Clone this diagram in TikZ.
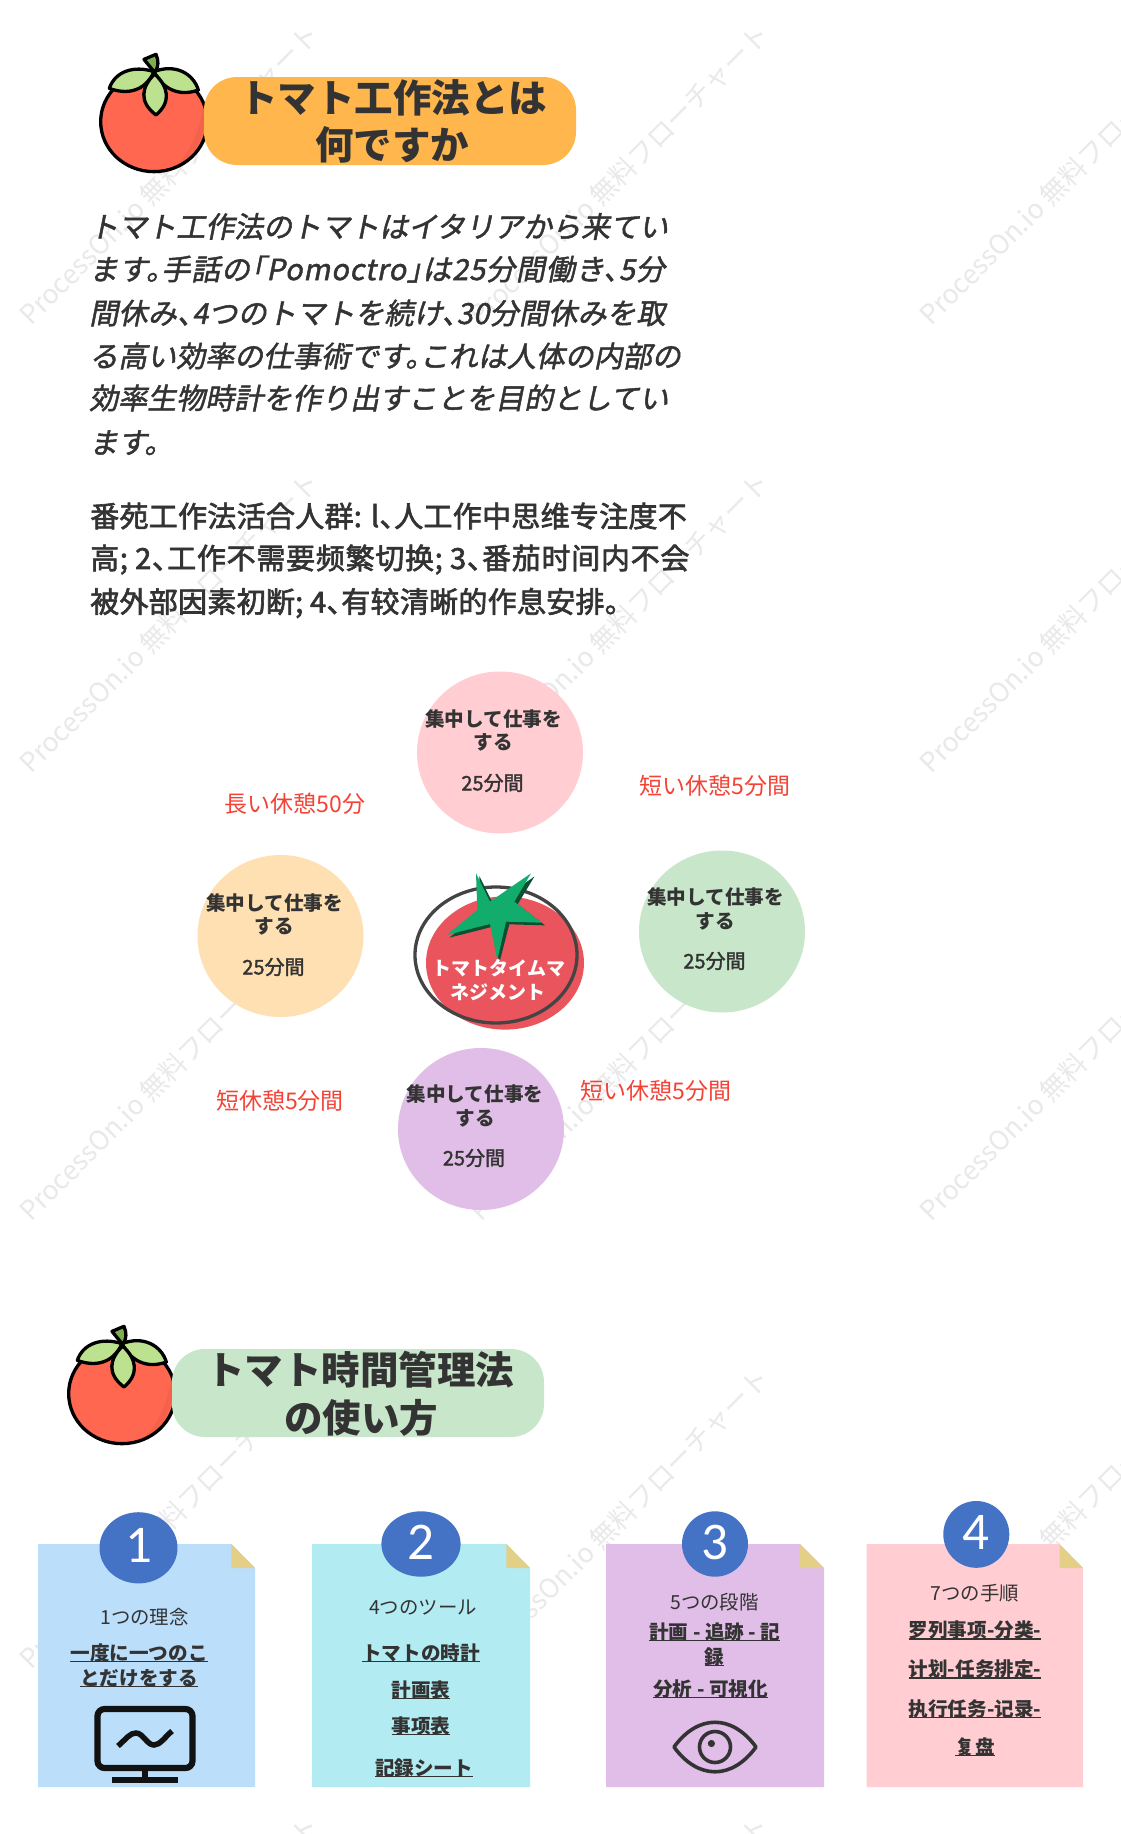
\documentclass[tikz,border=0pt]{standalone}
\usepackage{fontspec}
\setmainfont{Noto Sans CJK JP}
\newfontfamily\slantjp[FakeSlant=0.2,FakeBold=1.6,RawFeature=+halt]{Noto Sans CJK JP}
\newfontfamily\medjp[FakeBold=2.2,RawFeature=+halt]{Noto Sans CJK JP}
\newfontfamily\ctjp[FakeBold=1.6,RawFeature=+halt]{Noto Sans CJK JP}
\newfontfamily\numfont{Carlito}
\definecolor{ink}{HTML}{333333}
\definecolor{wm}{HTML}{E9E9E9}
\definecolor{redlbl}{HTML}{F44336}
\definecolor{blue1}{HTML}{4472C4}
\definecolor{fold}{HTML}{E3CF85}
\definecolor{pink1}{HTML}{FFCDD2}
\definecolor{orange1}{HTML}{FFE0B2}
\definecolor{green1}{HTML}{C8E6C9}
\definecolor{purple1}{HTML}{E1BEE7}
\definecolor{sky1}{HTML}{BBDEFB}
\definecolor{cyan1}{HTML}{B2EBF2}
\definecolor{amber1}{HTML}{FFB74D}
\definecolor{tomred}{HTML}{FF6750}
\definecolor{tomdark}{HTML}{F4624C}
\definecolor{stem}{HTML}{7FAE4F}
\definecolor{leaf}{HTML}{BCE28F}
\definecolor{blob}{HTML}{EA545C}
\definecolor{ring}{HTML}{444444}
\definecolor{stardark}{HTML}{0B4F33}
\definecolor{star}{HTML}{12AD6C}
\newcommand\fs[1]{\fontsize{#1}{#1}\selectfont\rule[-0.08em]{0pt}{0.84em}}
\newcommand\ulin[1]{\setbox0\hbox{#1}\rlap{\rule[-0.1em]{\wd0}{0.075em}}\box0}
\newcommand\lsp[2]{{\addfontfeature{LetterSpace=#1}#2}}
\tikzset{
  txt/.style={inner sep=0pt,text=ink,anchor=center},
  title/.style={txt,font=\fs{38.5}\bfseries},
  body/.style={txt,anchor=west,font=\fs{29}\slantjp},
  bodyb/.style={txt,anchor=west,font=\fs{29}\medjp},
  cb/.style={txt,font=\fs{19.6}\bfseries},
  ct/.style={txt,font=\fs{20}\ctjp},
  redtxt/.style={txt,text=redlbl,font=\fs{23}},
  cl/.style={txt,font=\fs{19.4}},
  num/.style={txt,text=white,font=\fs{53}\numfont},
  wmk/.style={inner sep=0pt,text=wm,font=\fs{26.8},rotate=45,anchor=west},
  tl/.style={draw=black,line width=3.3pt,line join=round}
}
\newcommand\tomatoicon[2]{%
\begin{scope}[shift={(#1,#2)},x=0.3333pt,y=-0.3333pt]
  \fill[tomred] (222,275) ellipse [x radius=160,y radius=150];
  \fill[tomdark] (370,225) .. controls (360,300) and (330,370) .. (290,405) .. controls (340,385) and (385,320) .. (370,225) -- cycle;
  \draw[tl] (222,275) ellipse [x radius=160,y radius=150];
  \filldraw[tl,fill=stem] (222,125) -- (192,88) -- (228,73) .. controls (236,90) and (236,110) .. (226,125) -- cycle;
  \filldraw[tl,fill=leaf] (222,125) .. controls (160,105) and (105,125) .. (88,175) .. controls (140,195) and (195,185) .. (222,125) -- cycle;
  \filldraw[tl,fill=leaf] (222,125) .. controls (285,100) and (340,130) .. (355,180) .. controls (300,200) and (250,180) .. (222,125) -- cycle;
  \filldraw[tl,fill=leaf] (224,132) .. controls (185,170) and (175,215) .. (228,255) .. controls (275,215) and (265,170) .. (224,132) -- cycle;
\end{scope}}
\begin{document}
\begin{tikzpicture}[x=1pt,y=-1pt]
\useasboundingbox (0,0) rectangle (1120,1834);
\fill[white] (0,0) rectangle (1120,1834);
% watermark
\begin{scope}
\clip (0,0) rectangle (1120,1834);
\foreach \cx/\ci in {24/a,474/b,924/c}{
  \foreach \ry/\ri in {320/1,768/2,1216/3,1664/4,2112/5}{
    \node[wmk] (wm\ci\ri) at (\cx,\ry) {ProcessOn.io 無料フローチャート};
  }
}
\end{scope}
% header 1
\tomatoicon{80}{30}
\fill[amber1,rounded corners=33pt] (204,77) rectangle (576,165);
\node[title] (t1a) at (393,98) {トマト工作法とは};
\node[title] (t1b) at (392,145) {何ですか};
% paragraph 1
\node[body] (p1) at (89,226.5) {トマト工作法のトマトはイタリアから来てい};
\node[body] (p2) at (89,269) {\lsp{3}{ます。手話の「Pomoctro」は25分間働き、5分}};
\node[body] (p3) at (89,313) {\lsp{1.2}{間休み、4つのトマトを続け、30分間休みを取}};
\node[body] (p4) at (89,356) {る高い効率の仕事術です。これは人体の内部の};
\node[body] (p5) at (89,398) {効率生物時計を作り出すことを目的としてい};
\node[body] (p6) at (89,443) {ます。};
% paragraph 2
\node[bodyb] (q1) at (90,516) {\lsp{1}{番苑工作法活合人群: l、人工作中思维专注度不}};
\node[bodyb] (q2) at (90,559.5) {\lsp{2.5}{高; 2、工作不需要频繁切换; 3、番茄时间内不会}};
\node[bodyb] (q3) at (90,603) {\lsp{1}{被外部因素初断; 4、有较清晰的作息安排。}};
% circles
\fill[pink1] (500,752.5) ellipse [x radius=83,y radius=81];
\fill[orange1] (280.5,936) ellipse [x radius=83,y radius=81];
\fill[green1] (722,931.5) ellipse [x radius=83,y radius=81];
\fill[purple1] (481,1129) ellipse [x radius=83,y radius=81];
\node[cb] (ca1) at (493.5,719) {集中して仕事を};
\node[cb] (ca2) at (493.5,742) {する};
\node[ct] (ca3) at (492.5,783) {25分間};
\node[cb] (cb1) at (274.5,903) {集中して仕事を};
\node[cb] (cb2) at (274.5,926) {する};
\node[ct] (cb3) at (273.5,967) {25分間};
\node[cb] (cc1) at (715.5,897) {集中して仕事を};
\node[cb] (cc2) at (715.5,921) {する};
\node[ct] (cc3) at (714.5,961) {25分間};
\node[cb] (cd1) at (475,1094.5) {集中して仕事を};
\node[cb] (cd2) at (475,1118.5) {する};
\node[ct] (cd3) at (474,1158) {25分間};
\node[redtxt] (r1) at (295,803.4) {長い休憩50分};
\node[redtxt] (r2) at (715,785.4) {短い休憩5分間};
\node[redtxt] (r3) at (280,1101) {短休憩5分間};
\node[redtxt] (r4) at (656,1091) {短い休憩5分間};
% centre tomato
\fill[blob] (505,963) ellipse [x radius=79,y radius=66.6];
\draw[ring,line width=3.3pt] (496,955) ellipse [x radius=81,y radius=68];
\begin{scope}[shift={(400,850)},x=0.3333pt,y=-0.3333pt]
  \fill[stardark] (238,78) -- (280,163) -- (403,80) -- (353,163) -- (435,226) -- (328,223) -- (298,338) -- (278,230) -- (148,263) -- (242,188) -- cycle;
  \fill[star] (228,70) -- (270,155) -- (393,70) -- (343,155) -- (425,218) -- (318,215) -- (292,330) -- (270,222) -- (140,255) -- (232,180) -- cycle;
\end{scope}
\node[txt,text=white,font=\fs{19}\bfseries] (cm1) at (499,968) {トマトタイムマ};
\node[txt,text=white,font=\fs{19}\bfseries] (cm2) at (498,992) {ネジメント};
% header 2
\tomatoicon{48}{1302}
\fill[green1,rounded corners=33pt] (172,1349) rectangle (544,1437);
\node[title] (t2a) at (360,1370) {トマト時間管理法};
\node[title] (t2b) at (361,1417.5) {の使い方};
% cards
\fill[sky1] (38,1544) -- (231.4,1544) -- (255,1568) -- (255,1787) -- (38,1787) -- cycle;
\fill[fold] (231.4,1544) -- (255,1568) -- (231.4,1568) -- cycle;
\fill[cyan1] (312,1544) -- (506.4,1544) -- (530,1568) -- (530,1787) -- (312,1787) -- cycle;
\fill[fold] (506.4,1544) -- (530,1568) -- (506.4,1568) -- cycle;
\fill[purple1] (606,1544) -- (800,1544) -- (824,1568) -- (824,1787) -- (606,1787) -- cycle;
\fill[fold] (800,1544) -- (824,1568) -- (800,1568) -- cycle;
\fill[pink1] (866.5,1544) -- (1059.5,1544) -- (1083,1568) -- (1083,1787) -- (866.5,1787) -- cycle;
\fill[fold] (1059.5,1544) -- (1083,1568) -- (1059.5,1568) -- cycle;
% number badges
\fill[blue1] (138.5,1547.8) ellipse [x radius=39,y radius=35.6];
\fill[blue1] (421,1544) ellipse [x radius=39.6,y radius=32.7];
\fill[blue1] (715,1544) ellipse [x radius=33,y radius=32.7];
\fill[blue1] (976.3,1534.4) ellipse [x radius=33,y radius=33.4];
\node[num] (n1) at (139,1544) {1};
\node[num] (n2) at (421,1541) {2};
\node[num] (n3) at (715,1541) {3};
\node[num] (n4) at (976,1531) {4};
% card 1
\node[cl] (a0) at (144.6,1616.8) {1つの理念};
\node[cb] (a1) at (139,1653) {\ulin{一度に一つのこ}};
\node[cb] (a2) at (139,1678) {\ulin{とだけをする}};
\draw[black!93,line width=6.2pt,rounded corners=7pt] (97.5,1709) rectangle (192.5,1768);
\draw[black!93,line width=6.2pt] (145,1771) -- (145,1780);
\draw[black!93,line width=6.2pt] (112,1780) -- (178,1780);
\draw[black!93,line width=5.5pt] (118,1746) .. controls (127,1738) and (130,1733) .. (136,1733) .. controls (143,1733) and (147,1745) .. (154,1745) .. controls (160,1745) and (165,1737) .. (172,1731);
% card 2
\node[cl] (b0) at (423,1608) {4つのツール};
\node[cb] (b1) at (421,1653) {\ulin{トマトの時計}};
\node[cb] (b2) at (421,1690) {\ulin{計画表}};
\node[cb] (b3) at (421,1725.8) {\ulin{事项表}};
\node[cb] (b4) at (424,1768) {\ulin{記録シート}};
% card 3
\node[cl] (c0) at (714.6,1602) {5つの段階};
\node[cb] (c1) at (714.8,1632) {\ulin{計画 - 追跡 - 記}};
\node[cb] (c2) at (714.6,1656.6) {\ulin{録}};
\node[cb] (c3) at (710.6,1689) {\ulin{分析 - 可視化}};
\draw[ink,line width=3.6pt,line join=round] (674,1747) .. controls (698,1714) and (732,1714) .. (756,1747) .. controls (732,1780) and (698,1780) .. cycle;
\draw[ink,line width=3.6pt] (715,1747) circle [radius=15.5];
\fill[ink] (711.4,1743.5) circle [radius=3.6];
% card 4
\node[cl] (d0) at (975,1593) {7つの手順};
\node[cb] (d1) at (975,1630.4) {\ulin{罗列事项-分类-}};
\node[cb] (d2) at (975,1669.5) {\ulin{计划-任务排定-}};
\node[cb] (d3) at (975,1708.7) {\ulin{执行任务-记录-}};
\node[cb] (d4) at (975,1747) {\ulin{复盘}};
\end{tikzpicture}
\end{document}
